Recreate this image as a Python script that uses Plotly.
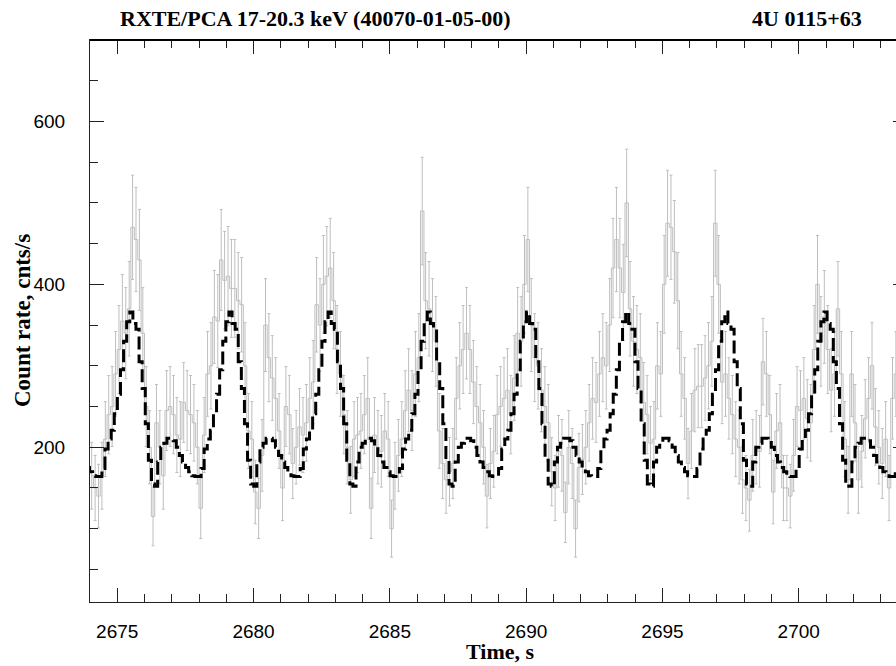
import plotly.graph_objects as go

# ---- light curve (0.125 s bins starting at T0) ----
T0 = 2674.0
DT = 0.125
RATE = [165, 150, 140, 165, 210, 240, 250, 290, 320, 355,
        340, 370, 470, 455, 430, 340, 250, 200, 115, 230,
        200, 165, 245, 250, 240, 215, 210, 255, 245, 240,
        230, 200, 125, 215, 290, 300, 360, 355, 430, 405,
        410, 395, 395, 380, 375, 300, 220, 210, 145, 125,
        190, 350, 310, 285, 260, 220, 150, 250, 240, 180,
        200, 225, 215, 230, 260, 280, 375, 350, 400, 410,
        420, 380, 320, 290, 240, 200, 160, 210, 215, 220,
        240, 260, 125, 215, 200, 195, 220, 210, 100, 165,
        190, 210, 245, 270, 245, 290, 310, 490, 380, 370,
        350, 330, 220, 180, 160, 170, 180, 260, 300, 320,
        340, 320, 280, 250, 230, 200, 140, 180, 195, 240,
        250, 260, 270, 240, 285, 340, 330, 400, 455, 350,
        310, 300, 270, 250, 230, 170, 150, 195, 190, 120,
        200, 180, 100, 175, 185, 200, 230, 260, 255, 290,
        310, 300, 350, 420, 455, 420, 390, 500, 370, 330,
        320, 310, 255, 240, 205, 210, 300, 290, 400, 475,
        470, 440, 380, 290, 260, 180, 220, 270, 275, 275,
        285, 300, 330, 475, 400, 280, 290, 260, 240, 210,
        200, 160, 150, 135, 190, 200, 195, 305, 290, 240,
        145, 220, 230, 150, 150, 140, 190, 250, 245, 260,
        235, 230, 320, 400, 330, 360, 320, 270, 290, 370,
        290, 210, 160, 290, 230, 160, 195, 235, 260, 300,
        225, 200, 180, 210, 150, 260, 290, 280, 250, 230]
ERR = [41, 40, 39, 41, 46, 48, 49, 52, 54, 57,
       56, 58, 64, 64, 62, 56, 49, 45, 36, 47,
       45, 41, 49, 49, 48, 46, 46, 49, 49, 48,
       47, 45, 37, 46, 52, 53, 57, 57, 62, 60,
       61, 60, 60, 59, 58, 53, 46, 46, 39, 37,
       44, 57, 54, 52, 50, 46, 40, 49, 48, 43,
       45, 47, 46, 47, 50, 51, 58, 57, 60, 61,
       61, 59, 54, 52, 48, 45, 41, 46, 46, 46,
       48, 50, 37, 46, 45, 44, 46, 46, 35, 41,
       44, 46, 49, 51, 49, 52, 54, 66, 59, 58,
       57, 55, 46, 43, 41, 42, 43, 50, 53, 54,
       56, 54, 51, 49, 47, 45, 39, 43, 44, 48,
       49, 50, 51, 48, 52, 56, 55, 60, 64, 57,
       54, 53, 51, 49, 47, 42, 40, 44, 44, 37,
       45, 43, 35, 42, 43, 45, 47, 50, 49, 52,
       54, 53, 57, 61, 64, 61, 59, 66, 58, 55,
       54, 54, 49, 48, 45, 46, 53, 52, 60, 65,
       64, 63, 59, 52, 50, 43, 46, 51, 51, 51,
       52, 53, 55, 65, 60, 51, 52, 50, 48, 46,
       45, 41, 40, 38, 44, 45, 44, 53, 52, 48,
       39, 46, 47, 40, 40, 39, 44, 49, 49, 50,
       48, 47, 54, 60, 55, 57, 54, 51, 52, 58,
       52, 46, 41, 52, 47, 41, 44, 48, 50, 53,
       47, 45, 43, 46, 40, 50, 52, 51, 49, 47]

# ---- folded pulse profile (32 phase bins, bin 0 centred on the peak) ----
PROFILE = [366, 352, 345, 305, 272, 229, 184, 155, 152, 182,
           200, 205, 211, 211, 208, 200, 190, 182, 175, 170,
           165, 164, 164, 174, 198, 210, 221, 241, 265, 295,
           330, 354]
PERIOD = 3.638
PEAK0 = 2675.516
CYCLES = list(range(-1, 9))

X_TICKS = [2675, 2680, 2685, 2690, 2695, 2700]
Y_TICKS = [200, 400, 600]

time = [T0 + DT * (k + 0.5) for k in range(len(RATE))]
nb = len(PROFILE)
prof_t, prof_v = [], []
for n in CYCLES:
    for j, v in enumerate(PROFILE):
        prof_t.append(PEAK0 + n * PERIOD + (j - 0.5) * PERIOD / nb)
        prof_v.append(v)

GREY = "#bebebe"
AX = "#222222"
SERIF = "Liberation Serif"
SANS = "Liberation Sans"

W, H = 896, 666
L, T, B = 90, 40, 64
PW, PH = W - L, H - T - B

fig = go.Figure()
fig.add_trace(go.Scatter(
    x=time, y=RATE, mode="lines",
    line=dict(color=GREY, width=1, shape="hvh"),
    error_y=dict(type="data", array=ERR, color=GREY, thickness=1, width=1.5),
    hoverinfo="skip"))
fig.add_trace(go.Scatter(
    x=prof_t, y=prof_v, mode="lines",
    line=dict(color="black", width=3, dash="13px,5px", shape="hv"),
    hoverinfo="skip"))
fig.add_trace(go.Scatter(x=[None], y=[None], yaxis="y2", showlegend=False))

fig.update_layout(
    width=W, height=H,
    margin=dict(l=L, r=0, t=T, b=B, pad=0),
    paper_bgcolor="white", plot_bgcolor="white",
    showlegend=False,
    xaxis=dict(
        range=[2674, 2703.567], showgrid=False, zeroline=False,
        showline=True, linecolor=AX, linewidth=1, mirror="ticks",
        ticks="inside", ticklen=14, tickwidth=1, tickcolor=AX,
        tickvals=X_TICKS, ticktext=[str(v) for v in X_TICKS],
        minor=dict(dtick=1, tick0=2675, ticks="inside", ticklen=8,
                   tickwidth=1, tickcolor=AX, showgrid=False),
        tickfont=dict(family=SANS, size=19, color="black"),
        ticklabelstandoff=12,
    ),
    yaxis=dict(
        range=[10, 700], showgrid=False, zeroline=False,
        showline=True, linecolor=AX, linewidth=1, mirror=False,
        ticks="inside", ticklen=14, tickwidth=1, tickcolor=AX,
        tickvals=Y_TICKS, ticktext=[str(v) for v in Y_TICKS],
        minor=dict(dtick=50, tick0=0, ticks="inside", ticklen=8,
                   tickwidth=1, tickcolor=AX, showgrid=False),
        tickfont=dict(family=SANS, size=19, color="black"),
        ticklabelstandoff=20,
    ),
    yaxis2=dict(
        range=[10, 700], overlaying="y", side="right", anchor="x",
        showgrid=False, zeroline=False, showline=False,
        ticks="inside", ticklen=3, tickwidth=1, tickcolor=AX,
        tickvals=Y_TICKS, showticklabels=False,
    ),
    shapes=[dict(type="line", xref="paper", yref="paper", x0=0, x1=1,
                 y0=1, y1=1, line=dict(color="black", width=2))],
    annotations=[
        dict(text="<b>RXTE/PCA 17-20.3 keV (40070-01-05-00)</b>", xref="paper", yref="paper",
             x=(118 - L) / PW, y=1 + (T - 18) / PH, xanchor="left", yanchor="middle",
             showarrow=False, font=dict(family=SERIF, size=22, color="black")),
        dict(text="<b>4U 0115+63</b>", xref="paper", yref="paper",
             x=(750 - L) / PW, y=1 + (T - 18) / PH, xanchor="left", yanchor="middle",
             showarrow=False, font=dict(family=SERIF, size=22, color="black")),
        dict(text="<b>Count rate, cnts/s</b>", xref="paper", yref="paper",
             x=(22 - L) / PW, y=0.5, xanchor="center", yanchor="middle", textangle=-90,
             showarrow=False, font=dict(family=SERIF, size=23, color="black")),
        dict(text="<b>Time, s</b>", xref="paper", yref="paper",
             x=(500 - L) / PW, y=-(666 - (H - B)) / PH, xanchor="center", yanchor="bottom",
             showarrow=False, font=dict(family=SERIF, size=22, color="black")),
    ],
)

fig.write_html("out.html", config={"displayModeBar": False, "staticPlot": True},
               post_script="document.body.style.margin='0';")
